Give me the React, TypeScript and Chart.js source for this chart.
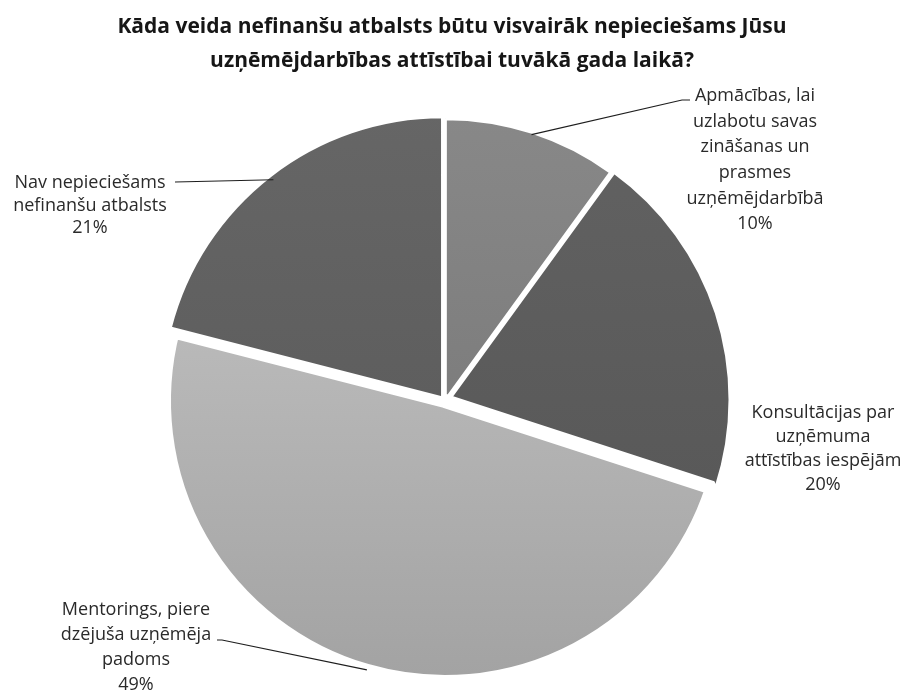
import React, { useEffect, useRef } from "react";
import { Chart, registerables } from "chart.js";

Chart.register(...registerables);

const titleLines = [
  "Kāda veida nefinanšu atbalsts būtu visvairāk nepieciešams Jūsu",
  "uzņēmējdarbības attīstībai tuvākā gada laikā?",
];

const categories = [
  "Apmācības, lai uzlabotu savas zināšanas un prasmes uzņēmējdarbībā",
  "Konsultācijas par uzņēmuma attīstības iespējām",
  "Mentorings, piere dzējuša uzņēmēja padoms",
  "Nav nepieciešams nefinanšu atbalsts",
];

const values = [10, 20, 49, 21];

const labelLines = [
  ["Apmācības, lai", "uzlabotu savas", "zināšanas un", "prasmes", "uzņēmējdarbībā"],
  ["Konsultācijas par", "uzņēmuma", "attīstības iespējām"],
  ["Mentorings, piere", "dzējuša uzņēmēja", "padoms"],
  ["Nav nepieciešams", "nefinanšu atbalsts"],
];

// gradient colours (top, bottom) per slice
const sliceColors = [
  ["#888888", "#727272"],
  ["#626262", "#545454"],
  ["#c8c8c8", "#a2a2a2"],
  ["#666666", "#565656"],
];

const LABEL_FONT = "18px 'Open Sans', sans-serif";
const TITLE_FONT = "bold 21px 'Open Sans', sans-serif";

// label layout relative to pie centre: text centre x, first line y, line height,
// leader end points (text side) or null
const labelLayout = [
  { dx: 310, dy: -305, lh: 25.6, leader: [[237, -301], [245, -301]] },
  { dx: 378, dy: 12, lh: 24, leader: null },
  { dx: -309, dy: 209, lh: 25, leader: [[-223, 239], [-228, 239]] },
  { dx: -355, dy: -218, lh: 22.5, leader: [[-270, -219]] },
];

const labelPlugin = {
  id: "pieLabels",
  afterDraw(chart: any) {
    const ctx = chart.ctx;
    const meta = chart.getDatasetMeta(0);
    const total = values.reduce((a, b) => a + b, 0);
    ctx.save();
    ctx.fillStyle = "#161616";
    ctx.font = TITLE_FONT;
    ctx.textAlign = "center";
    ctx.textBaseline = "middle";
    ctx.fillText(titleLines[0], 452, 27);
    ctx.fillText(titleLines[1], 452, 61);

    meta.data.forEach((arc: any, i: number) => {
      const p = arc.getProps(["x", "y", "startAngle", "endAngle", "outerRadius"], true);
      const mid = (p.startAngle + p.endAngle) / 2;
      const lay = labelLayout[i];
      const cx = p.x;
      const cy = p.y;
      if (lay.leader) {
        const sx = cx + Math.cos(mid) * (p.outerRadius - 1);
        const sy = cy + Math.sin(mid) * (p.outerRadius - 1);
        ctx.beginPath();
        ctx.strokeStyle = "#1e1e1e";
        ctx.lineWidth = 1.2;
        ctx.moveTo(sx, sy);
        lay.leader.forEach((pt: number[]) => ctx.lineTo(cx + pt[0], cy + pt[1]));
        ctx.stroke();
      }
      ctx.fillStyle = "#2a2a2a";
      ctx.font = LABEL_FONT;
      ctx.textAlign = "center";
      ctx.textBaseline = "middle";
      const lines = [...labelLines[i], Math.round((values[i] / total) * 100) + "%"];
      lines.forEach((t, j) => {
        ctx.fillText(t, cx + lay.dx, cy + lay.dy + j * lay.lh);
      });
    });
    ctx.restore();
  },
};

export default function App() {
  const ref = useRef<HTMLCanvasElement | null>(null);
  useEffect(() => {
    if (!ref.current) return;
    const chart = new Chart(ref.current, {
      type: "pie",
      data: {
        labels: categories,
        datasets: [
          {
            data: values,
            backgroundColor: (c: any) => {
              const i = c.dataIndex ?? 0;
              const area = c.chart.chartArea;
              if (!area) return sliceColors[i][0];
              const g = c.chart.ctx.createLinearGradient(0, area.top, 0, area.bottom);
              g.addColorStop(0, sliceColors[i][0]);
              g.addColorStop(1, sliceColors[i][1]);
              return g;
            },
            borderColor: "#ffffff",
            borderWidth: [3, 3, 14, 3],
            offset: [4, 16, 0, 16],
          },
        ],
      },
      options: {
        animation: false,
        responsive: true,
        maintainAspectRatio: false,
        radius: 281,
        rotation: 0,
        layout: { padding: { left: 20, right: 34, top: 112, bottom: 3 } },
        plugins: {
          legend: { display: false },
          title: { display: false },
          tooltip: { enabled: false },
        },
      } as any,
      plugins: [labelPlugin],
    });
    return () => chart.destroy();
  }, []);
  return (
    <div style={{ position: "absolute", left: 0, top: 0, width: 904, height: 693, background: "#fff" }}>
      <canvas ref={ref} />
    </div>
  );
}
